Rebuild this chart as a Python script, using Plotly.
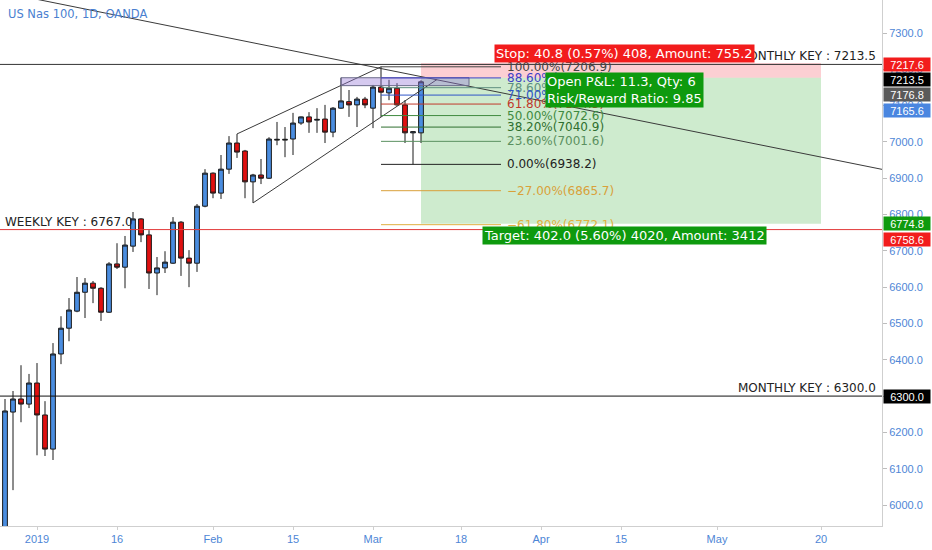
import plotly.graph_objects as go

TITLE = "US Nas 100, 1D, OANDA"

# ---- daily candles (bar index 0 = 26 Dec 2018 ... 52 = 11 Mar 2019) ----
OPEN = [5900, 6256, 6292, 6278, 6336, 6248, 6154, 6416, 6487, 6534,
        6586, 6611, 6597, 6531, 6664, 6655, 6713, 6788, 6744, 6639,
        6653, 6666, 6779, 6680, 6666, 6823, 6914, 6859, 6925, 6997,
        6975, 6890, 6909, 6900, 7005, 7005, 7008, 7052, 7069, 7060,
        7063, 7027, 7093, 7111, 7102, 7118, 7093, 7151, 7135, 7148,
        7102, 7025, 7025]
HIGH = [6292, 6314, 6385, 6361, 6391, 6286, 6446, 6520, 6570, 6628,
        6625, 6617, 6600, 6669, 6721, 6741, 6807, 6790, 6757, 6683,
        6699, 6793, 6782, 6702, 6829, 6925, 6916, 6964, 7016, 7022,
        6978, 6912, 6953, 7013, 7055, 7041, 7080, 7070, 7082, 7093,
        7102, 7096, 7176.8, 7143, 7124, 7124, 7157, 7206.9, 7171, 7162,
        7115, 7030, 7170]
LOW = [5870, 6041, 6228, 6267, 6137, 6135, 6124, 6388, 6451, 6531,
       6515, 6556, 6507, 6529, 6650, 6597, 6697, 6724, 6595, 6578,
       6639, 6664, 6631, 6600, 6642, 6820, 6845, 6843, 6912, 6956,
       6845, 6832, 6884, 6898, 6991, 6958, 6964, 7047, 7025, 7025,
       6997, 7013, 7091, 7069, 7041, 7093, 7038, 7069, 7115, 7100,
       6997, 6938.2, 6997]
CLOSE = [6259, 6292, 6278, 6336, 6248, 6154, 6416, 6487, 6537, 6586,
         6611, 6597, 6531, 6664, 6655, 6716, 6788, 6744, 6639, 6653,
         6669, 6779, 6680, 6666, 6823, 6914, 6859, 6925, 6997, 6972,
         6890, 6909, 6900, 7008, 7007, 7007, 7052, 7069, 7055, 7062,
         7027, 7093, 7113, 7102, 7118, 7102, 7151, 7137, 7148, 7102,
         7025, 7028, 7165.6]
BAR_INDEX = list(range(len(OPEN)))

# ---- time axis ----
TICK_INDEX = [4, 14, 26, 36, 46, 57, 67, 77, 89, 102]
TICK_TEXT = ["2019", "16", "Feb", "15", "Mar", "18", "Apr", "15", "May", "20"]
X_RANGE = [-0.625, 109.625]
Y_RANGE = [5942.2, 7390.9]

# ---- horizontal key levels ----
KEY_PRICES = [7213.5, 6758.6, 6300.0]
KEY_COLORS = ["#333333", "#e23a3a", "#111111"]
KEY_TEXTS = ["MONTHLY KEY : 7213.5", "WEEKLY KEY : 6767.0", "MONTHLY KEY : 6300.0"]
KEY_TEXT_SIDE = ["right", "left", "right"]

# ---- drawn trend lines (anchor bar index, price) ----
TREND_IDX = [4.4, 109.5]
TREND_PRICE = [7391, 6925]
WEDGE_UP_IDX = [29, 47]
WEDGE_UP_PRICE = [7022, 7206.9]
WEDGE_LOW_IDX = [31, 54]
WEDGE_LOW_PRICE = [6832, 7172]

# ---- highlighted zone ----
RECT_IDX = [42, 58]
RECT_PRICE = [7155, 7176.8]

# ---- fibonacci retracement ----
FIB_START, FIB_END = 47, 62
FIB_LEVELS = ["100.00%", "88.60%", "78.60%", "71.00%", "61.80%", "50.00%",
              "38.20%", "23.60%", "0.00%", "\u221227.00%", "\u221261.80%"]
FIB_PRICES = [7206.9, 7176.3, 7149.4, 7129.0, 7104.3, 7072.6,
              7040.9, 7001.6, 6938.2, 6865.7, 6772.1]
FIB_COLORS = ["#444444", "#3f3fc8", "#5f8f7f", "#2f55c8", "#c0392b", "#3f8a3f",
              "#2f6f2f", "#5a9060", "#222222", "#d9a13a", "#e0b040"]

# ---- short position tool ----
POS_START, POS_END = 52, 102
ENTRY, STOP, TARGET = 7176.8, 7217.6, 6774.8
STOP_TEXT = "Stop: 40.8 (0.57%) 408, Amount: 755.2"
PNL_TEXT = "Open P&L: 11.3, Qty: 6<br>Risk/Reward Ratio: 9.85"
TARGET_TEXT = "Target: 402.0 (5.60%) 4020, Amount: 3412"

# ---- price-scale labels ----
AXIS_LABEL_PRICES = [7217.6, 7213.5, 7176.8, 7165.6, 6774.8, 6758.6, 6300.0]
AXIS_LABEL_COLORS = ["#f21c1c", "#000000", "#5a5a5a", "#4a86e0", "#0e9a0e", "#f21c1c", "#000000"]
AXIS_LABEL_SHIFT = [-2, -15, -17, -29, 0, -10, 0]

BLUE_TEXT = "#4e86d6"
RED = "#f21c1c"
GREEN = "#0e9a0e"

fig = go.Figure()

fig.add_trace(go.Candlestick(
    x=BAR_INDEX, open=OPEN, high=HIGH, low=LOW, close=CLOSE,
    increasing=dict(fillcolor="#4a8de0", line=dict(color="#1a1a1a", width=1)),
    decreasing=dict(fillcolor="#e01010", line=dict(color="#1a1a1a", width=1)),
    whiskerwidth=0, hoverinfo="skip", showlegend=False,
))

line_style = dict(color="#3a3a3a", width=1)

# long descending trend line, extended across the chart
slope = (TREND_PRICE[1] - TREND_PRICE[0]) / (TREND_IDX[1] - TREND_IDX[0])
ext_x = [X_RANGE[0] - 2, X_RANGE[1] + 2]
ext_y = [TREND_PRICE[0] + slope * (xx - TREND_IDX[0]) for xx in ext_x]
fig.add_trace(go.Scatter(x=ext_x, y=ext_y, mode="lines", line=line_style,
                         hoverinfo="skip", showlegend=False))
fig.add_trace(go.Scatter(x=WEDGE_UP_IDX, y=WEDGE_UP_PRICE, mode="lines", line=line_style,
                         hoverinfo="skip", showlegend=False))
fig.add_trace(go.Scatter(x=WEDGE_LOW_IDX, y=WEDGE_LOW_PRICE, mode="lines", line=line_style,
                         hoverinfo="skip", showlegend=False))

shapes = []
annotations = []

# position tool zones
shapes.append(dict(type="rect", xref="x", yref="y", x0=POS_START, x1=POS_END, y0=ENTRY, y1=STOP,
                   fillcolor="rgba(242,54,69,0.24)", line=dict(width=0), layer="below"))
shapes.append(dict(type="rect", xref="x", yref="y", x0=POS_START, x1=POS_END, y0=TARGET, y1=ENTRY,
                   fillcolor="rgba(8,153,8,0.20)", line=dict(width=0), layer="below"))

# key levels
for p, c, t, side in zip(KEY_PRICES, KEY_COLORS, KEY_TEXTS, KEY_TEXT_SIDE):
    shapes.append(dict(type="line", xref="paper", yref="y", x0=0, x1=1, y0=p, y1=p,
                       line=dict(color=c, width=1)))
    if side == "right":
        annotations.append(dict(xref="paper", yref="y", x=1, y=p, xanchor="right", yanchor="bottom",
                                xshift=-4, yshift=-1, text=t, showarrow=False,
                                font=dict(family="DejaVu Sans", size=12, color="#222222")))
    else:
        annotations.append(dict(xref="paper", yref="y", x=0, y=p, xanchor="left", yanchor="bottom",
                                xshift=3, yshift=-1, text=t, showarrow=False,
                                font=dict(family="DejaVu Sans", size=12, color="#222222")))

# highlighted rectangle
shapes.append(dict(type="rect", xref="x", yref="y", x0=RECT_IDX[0], x1=RECT_IDX[1],
                   y0=RECT_PRICE[0], y1=RECT_PRICE[1],
                   fillcolor="rgba(150,120,215,0.40)", line=dict(color="#6b6b8a", width=1)))

# fibonacci lines and labels
for lvl, p, c in zip(FIB_LEVELS, FIB_PRICES, FIB_COLORS):
    shapes.append(dict(type="line", xref="x", yref="y", x0=FIB_START, x1=FIB_END, y0=p, y1=p,
                       line=dict(color=c, width=1)))
    annotations.append(dict(xref="x", yref="y", x=FIB_END, y=p, xanchor="left", yanchor="middle",
                            xshift=4, text=f"{lvl}({p:.1f})", showarrow=False,
                            font=dict(family="DejaVu Sans", size=12, color=c)))

pos_mid = (POS_START + POS_END) / 2 + 0.4
annotations.append(dict(xref="x", yref="y", x=pos_mid, y=STOP, xanchor="center", yanchor="bottom",
                        yshift=0, text=STOP_TEXT, showarrow=False, bgcolor=RED, borderpad=1,
                        font=dict(family="DejaVu Sans", size=13, color="white")))
annotations.append(dict(xref="x", yref="y", x=pos_mid, y=ENTRY, xanchor="center", yanchor="top",
                        yshift=6, text=PNL_TEXT, showarrow=False, bgcolor=GREEN, borderpad=1,
                        align="left",
                        font=dict(family="DejaVu Sans", size=13, color="white")))
annotations.append(dict(xref="x", yref="y", x=pos_mid, y=TARGET, xanchor="center", yanchor="top",
                        yshift=-2, text=TARGET_TEXT, showarrow=False, bgcolor=GREEN, borderpad=1,
                        font=dict(family="DejaVu Sans", size=13, color="white")))

# price scale labels
for p, c, s in zip(AXIS_LABEL_PRICES, AXIS_LABEL_COLORS, AXIS_LABEL_SHIFT):
    annotations.append(dict(xref="paper", yref="y", x=1, y=p, xanchor="left", yanchor="middle",
                            xshift=1, yshift=s, text=f"{p:.1f}", showarrow=False,
                            bgcolor=c, width=46, height=13, borderpad=0, align="center",
                            font=dict(family="Liberation Sans", size=11, color="white")))

# title
annotations.append(dict(xref="paper", yref="paper", x=0, y=1, xanchor="left", yanchor="top",
                        xshift=6, yshift=-5, text=TITLE, showarrow=False,
                        font=dict(family="DejaVu Sans", size=11.5, color="#4a7fd0")))

fig.update_layout(
    width=932, height=550,
    margin=dict(l=0, r=50, t=0, b=24),
    paper_bgcolor="white", plot_bgcolor="white",
    showlegend=False, boxgap=0.15,
    shapes=shapes, annotations=annotations,
    xaxis=dict(range=X_RANGE, tickmode="array", tickvals=TICK_INDEX, ticktext=TICK_TEXT,
               showgrid=False, zeroline=False, showline=True, linecolor="#cfcfcf",
               ticks="outside", ticklen=3, tickcolor="#cfcfcf",
               tickfont=dict(family="Liberation Sans", size=11, color=BLUE_TEXT),
               rangeslider=dict(visible=False), fixedrange=True),
    yaxis=dict(range=Y_RANGE, side="right", dtick=100, tick0=0, tickformat=".1f",
               showgrid=False, zeroline=False, showline=True, linecolor="#cfcfcf",
               ticks="outside", ticklen=4, tickcolor="#bdbdbd",
               tickfont=dict(family="Liberation Sans", size=11, color=BLUE_TEXT), fixedrange=True),
)

fig.write_html("out.html", config={"displayModeBar": False},
               post_script="document.body.style.margin='0';")
